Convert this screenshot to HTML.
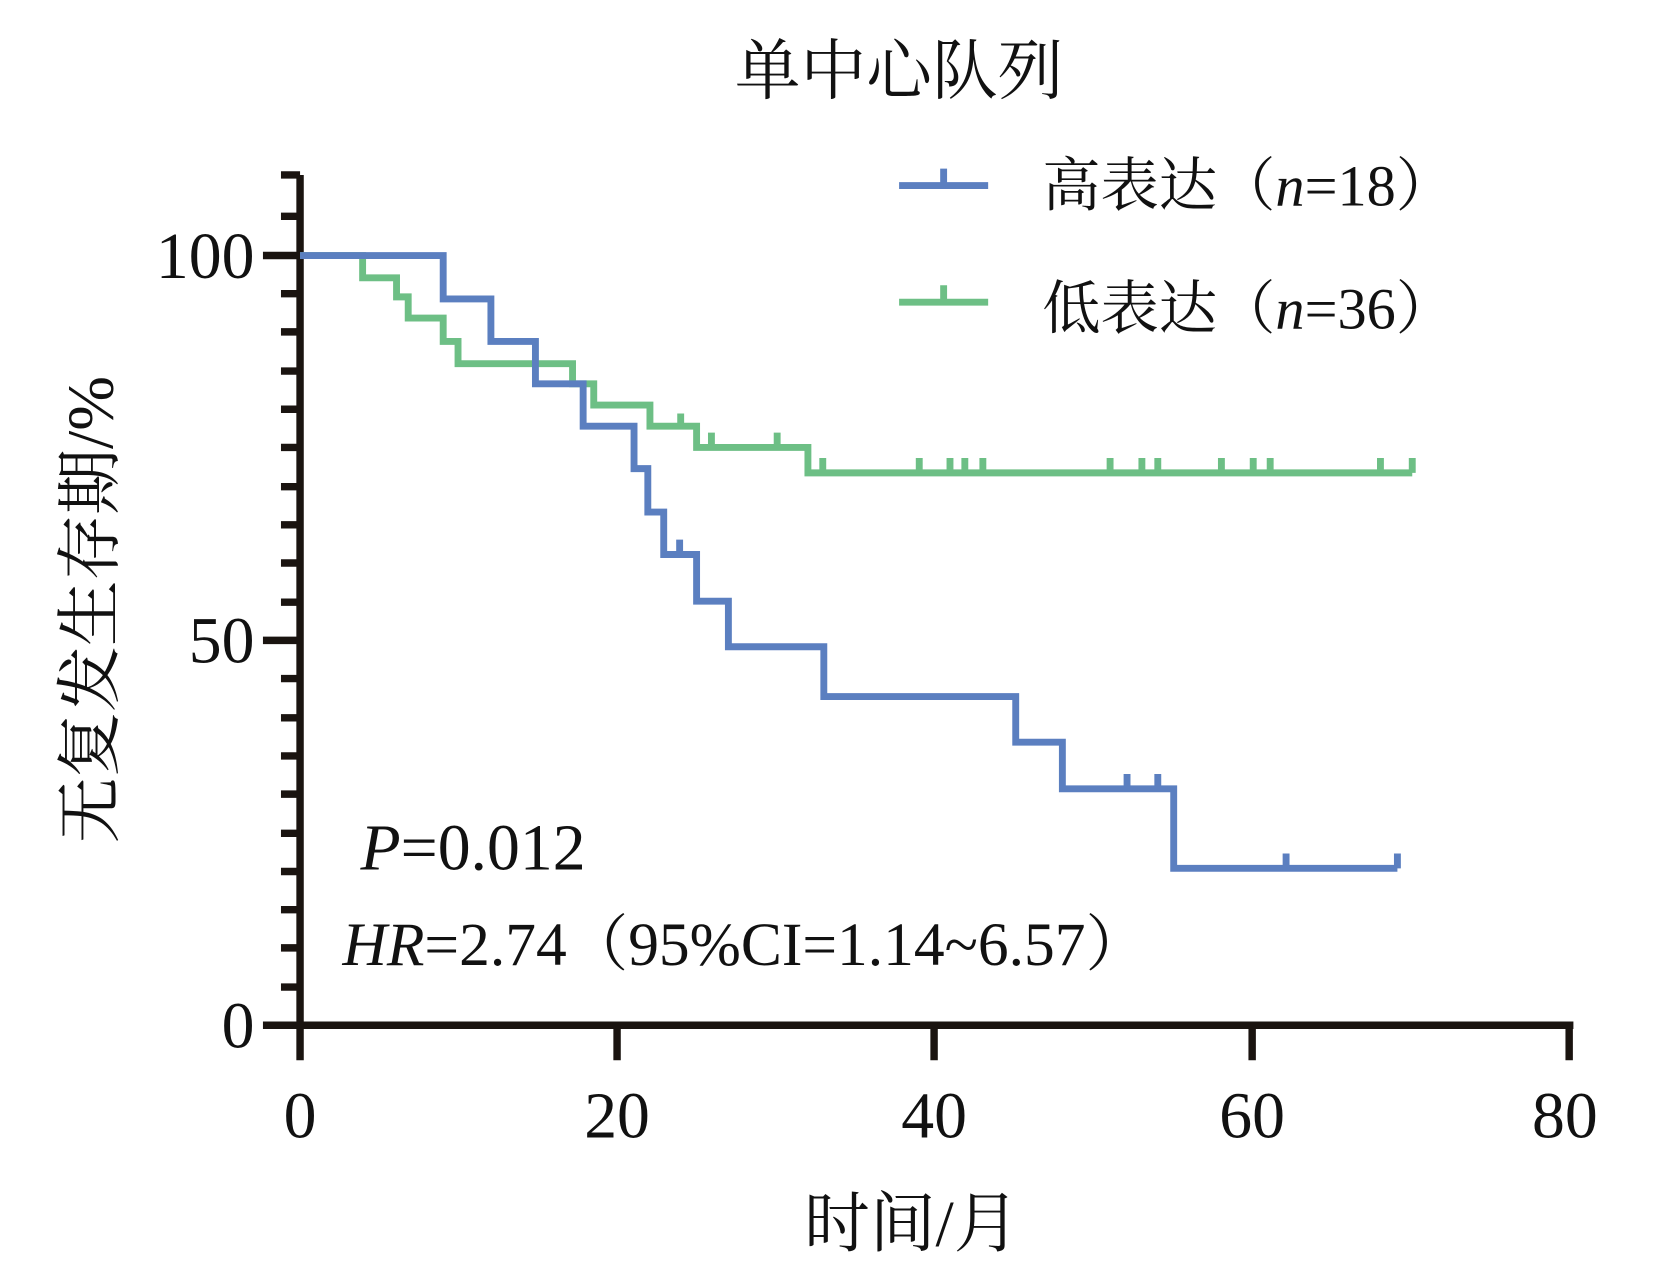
<!DOCTYPE html>
<html><head><meta charset="utf-8"><style>
html,body{margin:0;padding:0;background:#fff;}
svg{display:block;}
text{font-family:"Liberation Serif","Noto Serif CJK SC",serif;fill:#111;}
</style></head><body>
<svg width="1654" height="1276" viewBox="0 0 1560 1203.5" xmlns="http://www.w3.org/2000/svg">
<text x="848" y="88" font-size="62" text-anchor="middle">单中心队列</text>
<!-- legend -->
<g stroke-width="6.5" fill="none">
<path d="M848 175H932M890 175V159" stroke="#5b7fc0"/>
<path d="M848 285H932M890 285V269" stroke="#6dbf85"/>
</g>
<text x="983" y="194" font-size="55">高表达（<tspan font-style="italic">n</tspan>=18）</text>
<text x="983" y="310" font-size="55">低表达（<tspan font-style="italic">n</tspan>=36）</text>
<!-- axes -->
<g stroke="#1a1410" stroke-width="7" fill="none">
<path d="M283 165V1000"/>
<path d="M248 967H1484"/>
<path d="M248 241H283M248 604H283"/>
<path d="M265 165H283M265 204H283M265 277H283M265 313H283M265 350H283M265 386H283M265 422H283M265 459H283M265 495H283M265 531H283M265 568H283M265 640H283M265 677H283M265 713H283M265 749H283M265 786H283M265 822H283M265 858H283M265 894H283M265 931H283"/>
<path d="M582 967V1000M881 967V1000M1181 967V1000M1480 967V1000"/>
</g>
<g font-size="62" text-anchor="end">
<text x="240" y="262">100</text>
<text x="240" y="625">50</text>
<text x="240" y="988">0</text>
</g>
<g font-size="62" text-anchor="middle">
<text x="283" y="1073">0</text>
<text x="582" y="1073">20</text>
<text x="881" y="1073">40</text>
<text x="1181" y="1073">60</text>
<text x="1476" y="1073">80</text>
</g>
<text x="860" y="1175" font-size="62" text-anchor="middle">时间/月</text>
<text transform="translate(106,575) rotate(-90)" font-size="62" text-anchor="middle">无复发生存期/%</text>
<text x="340" y="820" font-size="62"><tspan font-style="italic">P</tspan>=0.012</text>
<text x="323" y="910" font-size="58"><tspan font-style="italic">HR</tspan>=2.74（95%CI=1.14~6.57）</text>
<!-- green -->
<path fill="none" stroke="#6dbf85" stroke-width="6.5" d="M283 241H342V262H374V280H385V300H418V322H432V343H540V362H560V382H613V402H657V422H762V446H1332
M642 402V390M671 422V408M733 422V408M776 446V432M867 446V432M896 446V432M910 446V432M927 446V432M1047 446V432M1077 446V432M1092 446V432M1152 446V432M1182 446V432M1198 446V432M1302 446V432M1332 446V432"/>
<!-- blue -->
<path fill="none" stroke="#5b7fc0" stroke-width="6.5" d="M283 241H418V282H463V322H505V362H550V402H598V442H611V483H626V523H657V567H687V610H777V657H958V700H1002V744H1107V819H1318
M641 523V509M1063 744V730M1092 744V730M1213 819V805M1318 819V805"/>
</svg>
</body></html>
